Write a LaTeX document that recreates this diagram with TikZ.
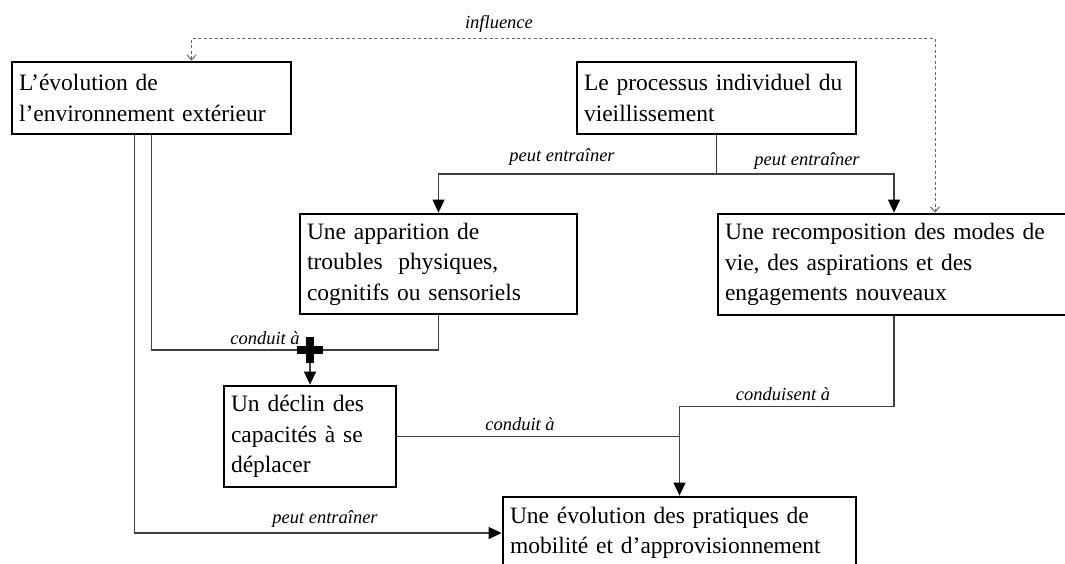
\documentclass[tikz,border=0pt]{standalone}
\usepackage{fontspec}
\setmainfont{Liberation Serif}
\usetikzlibrary{arrows.meta}

\begin{document}
\begin{tikzpicture}[x=1pt,y=-1pt,
  box/.style={draw,line width=2.8pt,inner xsep=7pt,inner ysep=0pt,align=left,
    font=\fontsize{23.5}{30.5}\selectfont},
  link/.style={draw=black!75,line width=1.2pt},
  arrow/.style={link,-{Triangle[length=13pt,width=12pt,color=black]}},
  infl/.style={draw=black!60,line width=1pt,dash pattern=on 3pt off 2.5pt,
    {Straight Barb[length=5pt,width=9pt]}-{Straight Barb[length=5pt,width=9pt]}},
  lbl/.style={font=\fontsize{18.5}{20}\selectfont\itshape,inner sep=0pt}]
\useasboundingbox (0,0) rectangle (1065,563);

\node[box,text width=265pt,minimum height=72pt] (env) at (151.5,98)
  {L’évolution de\\l’environnement extérieur};
\node[box,text width=265pt,minimum height=72pt] (proc) at (716.5,98)
  {Le processus individuel du\\vieillissement};
\node[box,text width=263pt,minimum height=100pt] (troub) at (438.5,264)
  {Une apparition de\\troubles\ \ physiques,\\cognitifs ou sensoriels};
\node[box,text width=338pt,minimum height=101pt] (recomp) at (894,264.5)
  {Une recomposition des modes de\\vie, des aspirations et des\\engagements nouveaux};
\node[box,text width=158pt,minimum height=101pt] (declin) at (310,436.5)
  {Un déclin des\\capacités à se\\déplacer};
\node[box,text width=339pt,minimum height=72pt] (evol) at (679.5,533)
  {Une évolution des pratiques de\\mobilité et d’approvisionnement};

\coordinate (infa) at (191.5,38.5);
\coordinate (infb) at (935,38.5);
\coordinate (split) at (716.5,174);
\coordinate (join) at (310,350);
\coordinate (envl) at (134.5,533);
\coordinate (merge) at (679.5,436.5);
\coordinate (bend) at (679.5,406.5);

% influence
\draw[infl] (infa |- env.north) -- (infa) -- (infb) -- (infb |- recomp.north);
\node[lbl] (linf) at (499,24) {influence};

% vieillissement
\draw[link] (proc.south) -- (split);
\draw[arrow] (split) -| (troub.north);
\draw[arrow] (split) -| (recomp.north);
\node[lbl] (lpe1) at (562,157) {peut entraîner};
\node[lbl] (lpe2) at (807,161) {peut entraîner};

% troubles + environnement
\draw[link] (env.south) |- (join);
\draw[link] (troub.south) |- (join);
\draw[line width=8pt] (join) ++(-13,0) -- ++(26,0) (join) ++(0,-13) -- ++(0,26);
\draw[arrow] (join) ++(0,13) -- (declin.north);
\node[lbl] (lca1) at (265,338) {conduit à};

% vers les pratiques
\draw[arrow] (env.south -| envl) -- (envl) -- (evol.west);
\node[lbl] (lpe3) at (325,519.5) {peut entraîner};
\draw[link] (declin.east) -- (merge);
\node[lbl] (lca2) at (520,424.5) {conduit à};
\draw[arrow] (recomp.south) |- (bend) -- (evol.north);
\node[lbl] (lcs) at (783,394) {conduisent à};
\end{tikzpicture}
\end{document}
